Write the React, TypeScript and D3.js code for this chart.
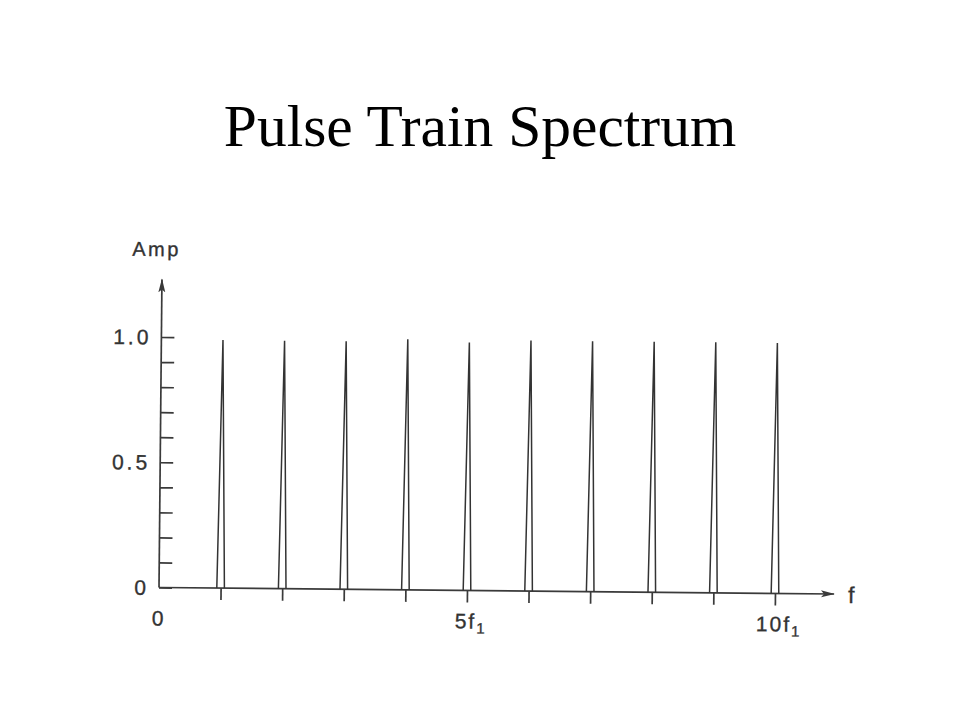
import { axisBottom, axisRight, range, scaleLinear, select } from "d3";
import { useEffect, useRef } from "react";

// harmonic numbers (multiples of f1) and their amplitudes
const harmonics = [1, 2, 3, 4, 5, 6, 7, 8, 9, 10];
const amplitudes = [0.99, 0.99, 0.99, 1.0, 0.99, 1.0, 1.0, 1.0, 1.0, 1.0];

const yTicks = range(0, 11).map((i) => i / 10);
const yLabels = [
  { value: 0, text: "0" },
  { value: 0.5, text: "0.5" },
  { value: 1, text: "1.0" },
];
const xLabels = [
  { value: 0, main: "0", sub: "" },
  { value: 5, main: "5f", sub: "1" },
  { value: 10, main: "10f", sub: "1" },
];

const W = 960;
const H = 720;

function App() {
  const svgRef = useRef(null);

  useEffect(() => {
    const svg = select(svgRef.current);
    svg.selectAll("*").remove();
    svg.attr("width", W).attr("height", H);

    svg
      .append("rect")
      .attr("width", W)
      .attr("height", H)
      .attr("fill", "#fff");

    svg
      .append("text")
      .attr("x", 480)
      .attr("y", 146)
      .attr("text-anchor", "middle")
      .attr("font-family", "'Liberation Serif', 'Times New Roman', serif")
      .attr("font-size", 59.5)
      .attr("fill", "#000")
      .text("Pulse Train Spectrum");

    const xScale = scaleLinear().domain([0, 10]).range([159, 775]);
    const yScale = scaleLinear().domain([0, 1]).range([587.5, 337]);
    const x0 = xScale(0);
    const y0 = yScale(0);
    const ink = "#3a3a3a";
    const font = "'Liberation Sans', Arial, sans-serif";

    const defs = svg.append("defs");
    defs
      .append("marker")
      .attr("id", "arrow")
      .attr("viewBox", "0 0 14 8")
      .attr("refX", 13)
      .attr("refY", 4)
      .attr("markerWidth", 14)
      .attr("markerHeight", 8)
      .attr("markerUnits", "userSpaceOnUse")
      .attr("orient", "auto")
      .append("path")
      .attr("d", "M0,0.5 L14,4 L0,7.5 L3,4 Z")
      .attr("fill", ink);

    // the scanned figure is tilted a little clockwise
    const g = svg
      .append("g")
      .attr("transform", `rotate(0.55, ${x0}, ${y0})`);

    // y axis ticks (to the right of the axis)
    const yAxis: any = axisRight(yScale)
      .tickValues(yTicks)
      .tickSize(13)
      .tickFormat(() => "");
    const yg = g.append("g").attr("transform", `translate(${x0},0)`).call(yAxis);
    yg.select(".domain").remove();
    yg.selectAll("line").attr("stroke", ink).attr("stroke-width", 1.7);

    // x axis ticks (below the axis)
    const xAxis: any = axisBottom(xScale)
      .tickValues(harmonics)
      .tickSize(12)
      .tickFormat(() => "");
    const xg = g.append("g").attr("transform", `translate(0,${y0})`).call(xAxis);
    xg.select(".domain").remove();
    xg.selectAll("line").attr("stroke", ink).attr("stroke-width", 1.7);

    // axis lines with arrows
    g.append("line")
      .attr("x1", x0)
      .attr("y1", y0)
      .attr("x2", x0)
      .attr("y2", yScale(1.23))
      .attr("stroke", ink)
      .attr("stroke-width", 1.7)
      .attr("marker-end", "url(#arrow)");
    g.append("line")
      .attr("x1", x0)
      .attr("y1", y0)
      .attr("x2", 834)
      .attr("y2", y0)
      .attr("stroke", ink)
      .attr("stroke-width", 1.7)
      .attr("marker-end", "url(#arrow)");

    // spectral lines: narrow triangles
    const half = 3.8;
    g.selectAll("path.spike")
      .data(harmonics)
      .join("path")
      .attr("class", "spike")
      .attr("d", (h, i) => {
        const x = xScale(h);
        return `M${x - half},${y0} L${x},${yScale(amplitudes[i])} L${x + half},${y0}`;
      })
      .attr("fill", "none")
      .attr("stroke", "#333")
      .attr("stroke-width", 1.5)
      .attr("stroke-linejoin", "miter");

    const textStyle = (sel: any, size: number, spacing: number) =>
      sel
        .attr("font-family", font)
        .attr("font-size", size)
        .attr("letter-spacing", spacing)
        .attr("fill", "#333")
        .attr("stroke", "#333")
        .attr("stroke-width", 0.35);

    // y labels
    g.selectAll("text.ylab")
      .data(yLabels)
      .join("text")
      .attr("class", "ylab")
      .attr("x", x0 - 10)
      .attr("y", (d) => yScale(d.value) + 7.5)
      .attr("text-anchor", "end")
      .call(textStyle, 21, 3);

    g.selectAll("text.ylab").text((d: any) => d.text);

    // x labels
    const xl = g
      .selectAll("text.xlab")
      .data(xLabels)
      .join("text")
      .attr("class", "xlab")
      .attr("x", (d) => xScale(d.value) + (d.sub ? 4 : 0))
      .attr("y", y0 + 38)
      .attr("text-anchor", "middle")
      .call(textStyle, 21, 2);
    xl.append("tspan").text((d) => d.main);
    xl.append("tspan")
      .attr("dy", 5)
      .attr("font-size", 15)
      .text((d) => d.sub);

    g.append("text")
      .attr("x", 848)
      .attr("y", y0 + 9)
      .call(textStyle, 23, 0)
      .text("f");

    g.append("text")
      .attr("x", 129)
      .attr("y", 256)
      .call(textStyle, 20, 2.5)
      .text("Amp");
  }, []);

  return (
    <div style={{ position: "absolute", left: 0, top: 0 }}>
      <svg ref={svgRef}></svg>
    </div>
  );
}

export default App;
